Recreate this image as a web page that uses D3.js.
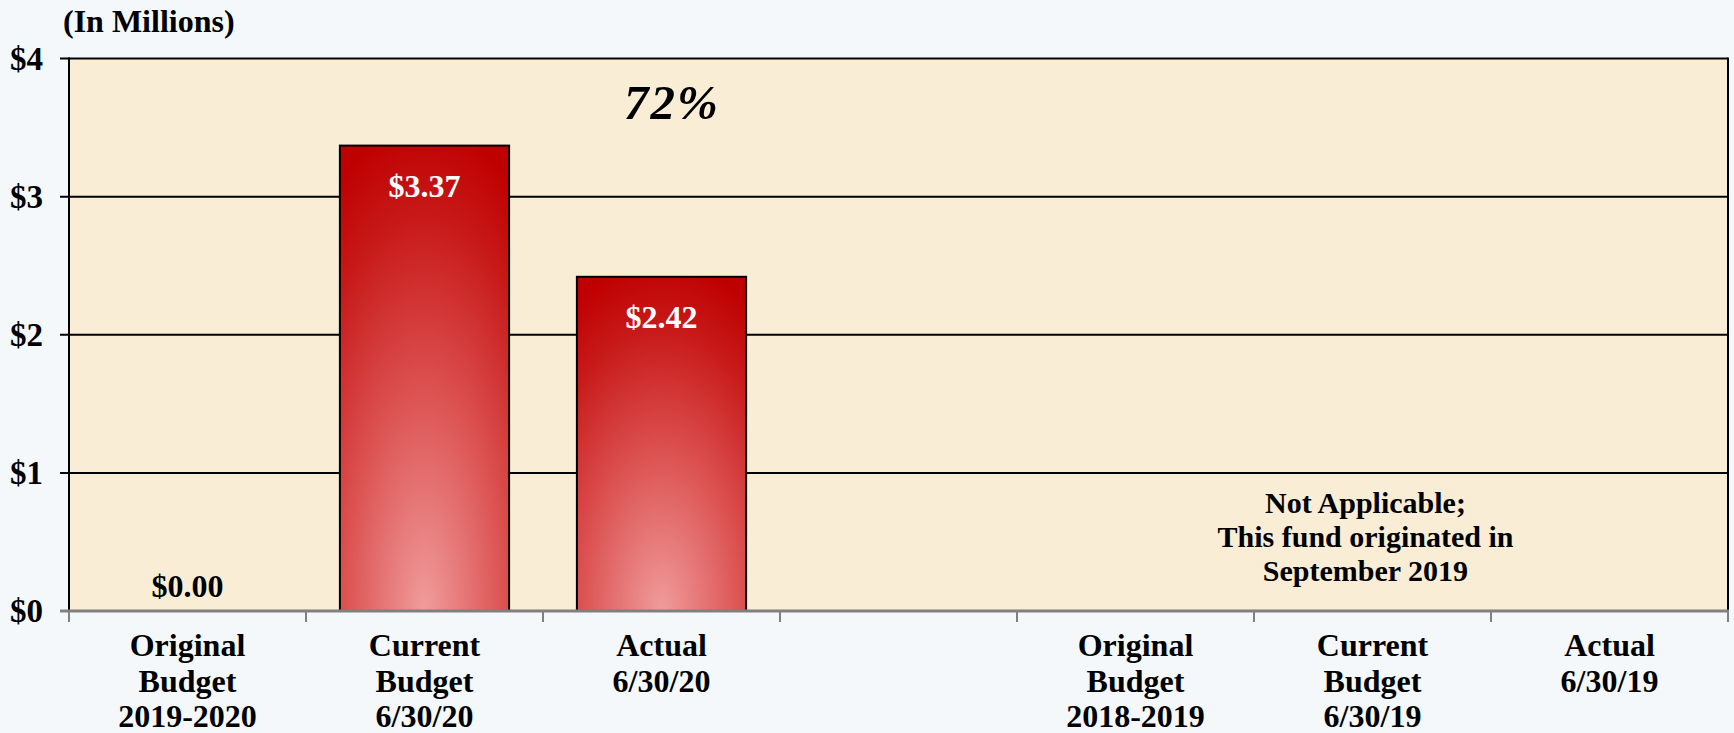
<!DOCTYPE html>
<html>
<head>
<meta charset="utf-8">
<script src="https://cdn.jsdelivr.net/npm/d3@7"></script>
<style>
  html, body { margin: 0; padding: 0; background: #F4F8FA; }
  svg { display: block; }
  text { font-family: "Liberation Serif", "Times New Roman", serif; font-weight: bold; }
</style>
</head>
<body>
<svg id="chart" width="1734" height="733"></svg>
<script>
// ---- data ----
const categories = ["orig20", "curr20", "act20", "gap", "orig19", "curr19", "act19"];
const categoryLabels = [
  ["Original", "Budget", "2019-2020"],
  ["Current", "Budget", "6/30/20"],
  ["Actual", "6/30/20"],
  [],
  ["Original", "Budget", "2018-2019"],
  ["Current", "Budget", "6/30/19"],
  ["Actual", "6/30/19"]
];
const values = [0.00, 3.37, 2.42, null, null, null, null];
const valueLabels = ["$0.00", "$3.37", "$2.42", "", "", "", ""];
const yTicks = [0, 1, 2, 3, 4];
const yTickLabels = ["$0", "$1", "$2", "$3", "$4"];
const unitLabel = "(In Millions)";
const percentLabel = "72%";
const noteLines = ["Not Applicable;", "This fund originated in", "September 2019"];
const noteCategory = "curr19";

// ---- layout ----
const svg = d3.select("#chart");
const pLeft = 69, pRight = 1728, pTop = 58.6, pBottom = 611;

const x = d3.scaleBand().domain(categories).range([pLeft, pRight]).padding(0);
const y = d3.scaleLinear().domain([0, 4]).range([pBottom, pTop]);
const barW = x.bandwidth() * 0.714;

// gradient
const defs = svg.append("defs");
const grad = defs.append("radialGradient")
  .attr("id", "barGrad")
  .attr("cx", 0.5).attr("cy", 1.0).attr("r", 1.05).attr("fx", 0.5).attr("fy", 1.0);
grad.append("stop").attr("offset", "0%").attr("stop-color", "#F09C9C");
grad.append("stop").attr("offset", "45%").attr("stop-color", "#DC5252");
grad.append("stop").attr("offset", "80%").attr("stop-color", "#C81A1A");
grad.append("stop").attr("offset", "100%").attr("stop-color", "#BF0000");

// plot background
svg.append("rect")
  .attr("x", pLeft).attr("y", y(4))
  .attr("width", pRight - pLeft).attr("height", y(0) - y(4))
  .attr("fill", "#F9EDD5");

// gridlines (including top)
svg.append("g").selectAll("line")
  .data(yTicks.filter(d => d > 0))
  .join("line")
  .attr("x1", pLeft - 9).attr("x2", pRight)
  .attr("y1", d => y(d)).attr("y2", d => y(d))
  .attr("stroke", "#000").attr("stroke-width", 2);

// y tick labels
svg.append("g").selectAll("text")
  .data(yTicks)
  .join("text")
  .attr("x", 43).attr("y", d => y(d))
  .attr("dy", "0.34em")
  .attr("text-anchor", "end")
  .attr("font-size", 33)
  .attr("fill", "#000")
  .text((d, i) => yTickLabels[i]);

// unit label
svg.append("text")
  .attr("x", 63).attr("y", 32)
  .attr("font-size", 32)
  .attr("fill", "#000")
  .text(unitLabel);

// bars
const barData = categories.map((c, i) => ({ c, v: values[i], label: valueLabels[i] }));
svg.append("g").selectAll("rect")
  .data(barData.filter(d => d.v && d.v > 0))
  .join("rect")
  .attr("x", d => x(d.c) + (x.bandwidth() - barW) / 2)
  .attr("width", barW)
  .attr("y", d => y(d.v))
  .attr("height", d => y(0) - y(d.v))
  .attr("fill", "url(#barGrad)")
  .attr("stroke", "#000").attr("stroke-width", 2);

// value labels
svg.append("g").selectAll("text")
  .data(barData.filter(d => d.label))
  .join("text")
  .attr("x", d => x(d.c) + x.bandwidth() / 2)
  .attr("y", d => d.v > 0 ? y(d.v) + 51 : y(0) - 14)
  .attr("text-anchor", "middle")
  .attr("font-size", 32)
  .attr("fill", d => d.v > 0 ? "#fff" : "#000")
  .text(d => d.label);

// left axis line
svg.append("line")
  .attr("x1", pLeft).attr("x2", pLeft)
  .attr("y1", y(4) - 1).attr("y2", y(0))
  .attr("stroke", "#000").attr("stroke-width", 2);
// right border
svg.append("line")
  .attr("x1", pRight).attr("x2", pRight)
  .attr("y1", y(4) - 1).attr("y2", y(0))
  .attr("stroke", "#000").attr("stroke-width", 2);

// bottom axis
svg.append("line")
  .attr("x1", pLeft - 9).attr("x2", pRight + 1)
  .attr("y1", y(0)).attr("y2", y(0))
  .attr("stroke", "#808080").attr("stroke-width", 3);

// x tick marks at band boundaries
const bounds = categories.map(c => x(c)).concat([pRight]);
svg.append("g").selectAll("line")
  .data(bounds)
  .join("line")
  .attr("x1", d => d).attr("x2", d => d)
  .attr("y1", y(0)).attr("y2", y(0) + 11)
  .attr("stroke", "#808080").attr("stroke-width", 2);

// x labels
const xl = svg.append("g").selectAll("text")
  .data(categories.map((c, i) => ({ c, lines: categoryLabels[i] })))
  .join("text")
  .attr("text-anchor", "middle")
  .attr("font-size", 32)
  .attr("fill", "#000");
xl.each(function(d) {
  d3.select(this).selectAll("tspan")
    .data(d.lines)
    .join("tspan")
    .attr("x", x(d.c) + x.bandwidth() / 2)
    .attr("y", (l, j) => 656 + j * 35.5)
    .text(l => l);
});

// percent label
svg.append("text")
  .attr("x", 672).attr("y", 119)
  .attr("text-anchor", "middle")
  .attr("font-size", 49)
  .attr("font-style", "italic")
  .attr("letter-spacing", 2)
  .attr("fill", "#000")
  .text(percentLabel);

// note
svg.append("g").selectAll("text")
  .data(noteLines)
  .join("text")
  .attr("x", x(noteCategory) + x.bandwidth() / 2 - 7)
  .attr("y", (d, i) => 513 + i * 34)
  .attr("text-anchor", "middle")
  .attr("font-size", 30)
  .attr("fill", "#000")
  .text(d => d);
</script>
</body>
</html>
